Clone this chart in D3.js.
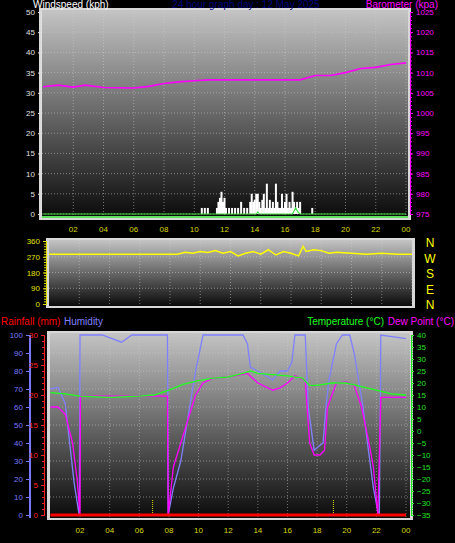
<!DOCTYPE html>
<html><head><meta charset="utf-8">
<script src="https://cdn.jsdelivr.net/npm/d3@7"></script>
<style>
body{margin:0;background:#000;}
text{font-family:"Liberation Sans",Arial,sans-serif;}
</style></head>
<body><div id="chart"></div>
<script>
// ---- data ----
var hourTicks = [2,4,6,8,10,12,14,16,18,20,22,24];
var hourLabels = ["02","04","06","08","10","12","14","16","18","20","22","00"];

var baroHours = [0,1,2,2.8,4,6,7,8,9,10,11,14,17,18,19,20,21,22,23,24];
var baroValues = [1006.5,1006.9,1006.4,1006.9,1006.3,1006.2,1006.6,1007.3,1007.7,1008,1008.2,1008.2,1008.2,1009.3,1009.3,1010,1011,1011.3,1012,1012.4];

var windHours = [10.5,10.7,10.9,11.5,11.6,11.7,11.8,11.9,12.0,12.1,12.3,12.5,12.7,12.9,13.1,13.3,13.5,13.7,13.8,13.9,14.0,14.1,14.2,14.3,14.4,14.5,14.6,14.7,14.8,14.9,15.0,15.1,15.2,15.3,15.4,15.5,15.6,15.7,15.8,15.9,16.0,16.1,16.2,16.3,16.4,16.5,16.6,16.7,16.8,16.9,17.0,17.8];
var windValues = [1.5,1.5,1.5,1.5,3,4,5.5,3,4,1.5,1.5,1.5,1.5,1.5,3,1.5,1.5,3,5,3,3.5,5,5,3,1.5,3.5,5,1.5,7.5,1.5,3.5,1.5,3,1.5,7.5,3,1.5,1.5,5,1.5,3,5,1.5,3,1.5,5.5,3,1.5,3,1.5,3,1.5];
var gustHours = [0,14.1,14.2,14.3,16.5,16.7,16.9,17,24];
var gustValues = [0,0,0.5,0,0,1.5,0.3,0,0];

var dirHours = [0,8.5,9,9.5,10,10.5,11,11.5,12,12.5,13,13.5,14,14.5,15,15.5,16,16.5,16.8,17,17.5,18,18.5,19,20,21,22,23,24];
var dirValues = [285,285,295,290,300,295,305,290,300,275,290,300,285,310,280,300,290,275,330,300,310,305,290,295,290,285,290,285,285];

var humHours = [0,0.5,1,1.3,1.6,1.9,1.95,2.0,3.5,4.8,5.5,7.9,7.95,8.3,8.8,9.3,9.8,10.3,13,13.3,13.5,14,15,15.5,16,16.3,16.5,17.2,17.4,17.8,18.1,18.4,18.6,18.8,19.3,19.7,20.2,20.5,21.1,21.4,21.8,22.1,22.2,22.3,24];
var humValues = [70,71,62,40,18,2,0,100,100,96,100,100,0,15,30,55,80,100,100,95,82,80,75,80,80,85,100,100,60,36,38,40,60,75,95,100,100,90,60,40,15,2,0,100,98];

var dewHours = [0,0.5,1,1.5,1.8,2.0,2.02,7.9,7.95,8.3,8.8,9.3,9.8,10.3,11,12,13.3,14,15,15.5,16,16.5,17.2,17.5,17.8,18.2,18.5,18.7,19.3,20,20.5,21,21.5,21.8,22.1,22.3,24];
var dewValues = [10,10,7,-5,-20,-35,14.5,14.5,-35,-15,-5,5,15,20,22,22.5,24,20,17,18,20,23,21,-5,-10,-10,-8,10,20,20.5,19,10,-5,-15,-35,14,14];

var tempHours = [0,1,2,4,6,7,8,9,10,11,12,13,13.5,14,15,16,17,17.5,18,19,20,21,22,23,24];
var tempValues = [16,15.5,14.5,14,14.5,15,17,19.5,21,22,22.5,24,25,24,23.5,23,22,19,19,20,20,18.5,17,15.5,15];

var rainHours = [0,24];
var rainValues = [0,0];
var sunHours = [6.9,19.1];

// ---- drawing ----
var svg = d3.select("#chart").append("svg").attr("width",455).attr("height",543);
var defs = svg.append("defs");
var grad = defs.append("linearGradient").attr("id","bg").attr("x1",0).attr("y1",0).attr("x2",0).attr("y2",1);
grad.append("stop").attr("offset","0%").attr("stop-color","#c4c4c4");
grad.append("stop").attr("offset","100%").attr("stop-color","#0a0a0a");

function panel(x0,x1,y0,y1){
  svg.append("rect").attr("x",x0-3).attr("y",y0-2).attr("width",x1-x0+6).attr("height",y1-y0+4).attr("fill","#d8d8d8");
  svg.append("rect").attr("x",x0).attr("y",y0).attr("width",x1-x0).attr("height",y1-y0).attr("fill","url(#bg)");
}
function grid(x,y,yt,x0,x1,y0,y1){
  var g = svg.append("g");
  g.selectAll(".v").data(hourTicks).enter().append("line")
    .attr("x1",d=>x(d)).attr("x2",d=>x(d)).attr("y1",y0).attr("y2",y1)
    .attr("stroke","#d0d0d0").attr("stroke-opacity",0.5).attr("stroke-dasharray","1,2");
  g.selectAll(".h").data(yt).enter().append("line")
    .attr("x1",x0).attr("x2",x1).attr("y1",d=>y(d)).attr("y2",d=>y(d))
    .attr("stroke","#d0d0d0").attr("stroke-opacity",0.5).attr("stroke-dasharray","1,2");
}
function axis(gen,tx,color){
  var g = svg.append("g").attr("transform","translate("+tx+",0)").call(gen);
  g.selectAll("text").attr("fill",color).style("font-size","8px");
  g.selectAll("line,path").attr("stroke",color);
  return g;
}
function xlabels(x,y){
  svg.append("g").selectAll("text").data(hourTicks).enter().append("text")
    .attr("x",d=>x(d)).attr("y",y).attr("text-anchor","middle")
    .attr("fill","#d8d800").style("font-size","8px").text((d,i)=>hourLabels[i]);
}
function line(x,y,hs,vs,color,w){
  svg.append("path").datum(hs.map((h,i)=>[h,vs[i]]))
    .attr("d",d3.line().x(d=>x(d[0])).y(d=>y(d[1])))
    .attr("fill","none").attr("stroke",color).attr("stroke-width",w||1.3);
}
function title(x,y,anchor,color,txt){
  svg.append("text").attr("x",x).attr("y",y).attr("text-anchor",anchor)
    .attr("fill",color).style("font-size","10px").text(txt);
}

// panel 1
var x1 = d3.scaleLinear().domain([0,24]).range([43,406]);
var yW = d3.scaleLinear().domain([0,50]).range([214,12]);
var yB = d3.scaleLinear().domain([975,1025]).range([214,12]);
panel(42,408,10,218);
grid(x1,yW,d3.range(0,51,5),42,408,10,218);
axis(d3.axisLeft(yW).tickValues(d3.range(0,51,5)).tickSize(3),41,"#e0e0e0");
axis(d3.axisLeft(yW).tickValues(d3.range(0,51,1)).tickSize(2).tickFormat(""),41,"#e0e0e0");
axis(d3.axisRight(yB).tickValues(d3.range(975,1026,5)).tickSize(3).tickFormat(d3.format("d")),410,"#ff00ff");
axis(d3.axisRight(yB).tickValues(d3.range(975,1026,1)).tickSize(2).tickFormat(""),410,"#ff00ff");
svg.append("g").selectAll("rect").data(windHours).enter().append("rect")
  .attr("x",d=>x1(d)-1).attr("width",2).attr("y",(d,i)=>yW(windValues[i])).attr("height",(d,i)=>yW(0)-yW(windValues[i]))
  .attr("fill","#ffffff");
svg.append("line").attr("x1",42).attr("x2",408).attr("y1",217).attr("y2",217).attr("stroke","#60e060").attr("stroke-width",2);
line(x1,yW,gustHours,gustValues,"#40e040",1.2);
line(x1,yB,baroHours,baroValues,"#ff00ff",1.6);
xlabels(x1,232);
title(33,8,"start","#fff","Windspeed (kph)");
title(246,8,"middle","#000080","24 hour graph day : 12 May 2025");
title(438,8,"end","#ff00ff","Barometer (kpa)");

// panel 2
var x2 = d3.scaleLinear().domain([0,24]).range([49,412]);
var yD = d3.scaleLinear().domain([0,360]).range([304,241]);
panel(49,412,240,306);
grid(x2,yD,[90,180,270],49,412,240,306);
axis(d3.axisLeft(yD).tickValues([0,90,180,270,360]).tickSize(3),46,"#e0e000");
axis(d3.axisLeft(yD).tickValues(d3.range(0,361,15)).tickSize(2).tickFormat(""),46,"#e0e000");
line(x2,yD,dirHours,dirValues,"#ffff00",1.5);
svg.append("g").selectAll("text").data(["N","W","S","E","N"]).enter().append("text")
  .attr("x",430).attr("y",(d,i)=>247+i*15.5).attr("text-anchor","middle")
  .attr("fill","#ffff00").style("font-size","12px").text(d=>d);

// panel 3
var x3 = d3.scaleLinear().domain([0,24]).range([50.4,406]);
var yH = d3.scaleLinear().domain([0,100]).range([515,335]);
var yR = d3.scaleLinear().domain([0,30]).range([515,335]);
var yT = d3.scaleLinear().domain([-35,40]).range([515,335]);
panel(50,410,333,518);
grid(x3,yH,d3.range(10,100,10),50,410,333,518);
axis(d3.axisLeft(yH).tickValues(d3.range(0,101,10)).tickSize(3),29,"#7878ff");
svg.append("line").attr("x1",30).attr("x2",30).attr("y1",335).attr("y2",518).attr("stroke","#7878ff").attr("stroke-width",2);
axis(d3.axisLeft(yR).tickValues(d3.range(0,31,5)).tickSize(3),44,"#ff2020");
axis(d3.axisLeft(yR).tickValues(d3.range(0,31,1)).tickSize(2).tickFormat(""),44,"#ff2020");
axis(d3.axisRight(yT).tickValues(d3.range(-35,41,5)).tickSize(3),411,"#20e020");
axis(d3.axisRight(yT).tickValues(d3.range(-35,41,1)).tickSize(2).tickFormat(""),411,"#20e020");
svg.append("g").selectAll("line").data(sunHours).enter().append("line")
  .attr("x1",d=>x3(d)).attr("x2",d=>x3(d)).attr("y1",500).attr("y2",516)
  .attr("stroke","#e0e000").attr("stroke-dasharray","1,1");
line(x3,yH,humHours,humValues,"#8080ff",1.3);
line(x3,yT,dewHours,dewValues,"#ff00ff",1.3);
line(x3,yT,tempHours,tempValues,"#20ff20",1.3);
line(x3,yR,rainHours,rainValues,"#ff0000",3);
xlabels(x3,533);
title(1,325,"start","#ff0000","Rainfall (mm)");
title(64,325,"start","#8080ff","Humidity");
title(384,325,"end","#20ff20","Temperature (°C)");
title(454,325,"end","#ff00ff","Dew Point (°C)");
</script></body></html>
